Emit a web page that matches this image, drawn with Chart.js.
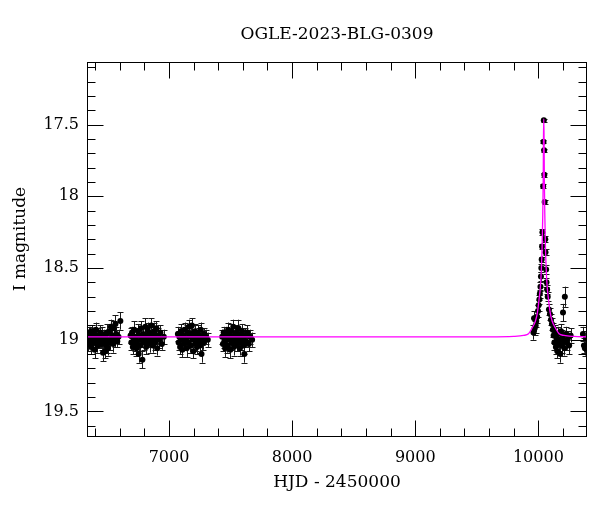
<!DOCTYPE html>
<html><head><meta charset="utf-8">
<script src="https://cdn.jsdelivr.net/npm/chart.js@4/dist/chart.umd.min.js"></script>
<style>html,body{margin:0;padding:0;background:#fff}#wrap{width:600px;height:512px}</style>
</head><body><div id="wrap"><canvas id="c" width="600" height="512"></canvas></div>
<script>
// ---- text ----
const chartTitle = 'OGLE-2023-BLG-0309';
const xTitle = 'HJD - 2450000';
const yTitle = 'I magnitude';

// ---- axes ----
const xRange = [6334, 10395];
const yRange = [17.064, 19.678];
const xMajorTicks = [7000, 8000, 9000, 10000];
const xMinorTicks = [6400, 6600, 6800, 7200, 7400, 7600, 7800, 8200, 8400, 8600, 8800, 9200, 9400, 9600, 9800, 10200];
const yMajorTicks = [17.5, 18, 18.5, 19, 19.5];
const yMinorTicks = [17.1, 17.2, 17.3, 17.4, 17.6, 17.7, 17.8, 17.9, 18.1, 18.2, 18.3, 18.4, 18.6, 18.7, 18.8, 18.9, 19.1, 19.2, 19.3, 19.4, 19.6];

// ---- observations [HJD-2450000, I mag, error] ----
const season1 = [[6340,18.98,.05],[6346,19.03,.05],[6351,18.95,.04],[6357,19.01,.05],[6362,18.97,.06],[6368,19.05,.05],[6373,18.94,.04],[6379,19.00,.05],[6385,19.02,.05],[6390,18.96,.04],[6396,19.07,.06],[6402,18.99,.05],[6407,18.93,.05],[6413,19.01,.04],[6419,19.04,.05],[6424,18.97,.05],[6430,18.99,.06],[6436,19.02,.04],[6441,18.95,.05],[6447,19.00,.05],[6453,19.03,.04],[6458,18.96,.05],[6464,19.09,.06],[6470,18.98,.05],[6476,19.01,.05],[6481,19.08,.05],[6487,18.97,.04],[6493,19.04,.05],[6498,18.95,.06],[6504,19.06,.05],[6510,19.00,.04],[6516,18.94,.05],[6522,19.02,.05],[6528,18.91,.05],[6534,18.99,.04],[6540,18.97,.05],[6546,19.03,.06],[6552,18.92,.05],[6558,19.00,.05],[6565,18.89,.06],[6572,18.96,.05],[6580,19.01,.04],[6590,18.98,.05],[6605,18.87,.06]];
const season2 = [[6688,18.97,.05],[6694,19.02,.05],[6700,18.95,.04],[6706,19.05,.05],[6712,18.99,.05],[6718,18.93,.06],[6724,19.03,.05],[6730,18.98,.04],[6736,19.06,.05],[6742,19.01,.05],[6748,18.94,.05],[6754,19.10,.06],[6760,18.97,.05],[6766,19.04,.04],[6772,18.92,.05],[6778,19.00,.05],[6784,19.14,.06],[6790,18.96,.05],[6796,19.02,.05],[6802,18.99,.04],[6808,18.91,.06],[6814,19.05,.05],[6820,18.97,.05],[6826,18.93,.05],[6832,19.01,.04],[6838,18.95,.05],[6844,19.03,.06],[6850,18.98,.05],[6856,18.90,.05],[6862,19.00,.04],[6868,19.04,.05],[6874,18.96,.05],[6880,18.94,.06],[6886,19.02,.05],[6892,18.99,.04],[6898,18.92,.05],[6904,19.06,.05],[6912,18.97,.05],[6920,19.00,.06],[6930,18.95,.05],[6942,19.03,.04],[6958,18.98,.05]];
const season3 = [[7072,18.96,.05],[7078,19.02,.05],[7084,18.98,.04],[7090,19.05,.05],[7096,18.94,.05],[7102,19.00,.06],[7108,19.07,.05],[7114,18.97,.05],[7120,19.03,.04],[7126,18.93,.05],[7132,19.01,.05],[7138,18.99,.05],[7144,19.06,.06],[7150,18.95,.05],[7156,19.02,.04],[7162,18.91,.05],[7168,18.98,.05],[7174,19.04,.05],[7180,18.96,.06],[7186,18.90,.05],[7192,19.00,.05],[7198,19.08,.05],[7204,18.97,.04],[7210,18.94,.05],[7216,19.03,.05],[7222,18.99,.06],[7228,19.05,.05],[7234,18.95,.05],[7240,19.01,.04],[7246,18.97,.05],[7252,19.04,.05],[7258,18.93,.05],[7264,19.10,.06],[7270,18.99,.05],[7278,19.02,.05],[7288,18.96,.04],[7300,18.98,.05],[7315,19.00,.05]];
const season4 = [[7432,18.98,.05],[7438,19.03,.05],[7444,18.95,.04],[7450,19.01,.05],[7456,19.06,.06],[7462,18.96,.05],[7468,18.99,.04],[7474,19.04,.05],[7480,18.93,.05],[7486,19.00,.05],[7492,18.97,.04],[7498,19.07,.06],[7504,18.94,.05],[7510,19.02,.05],[7516,18.99,.05],[7522,18.91,.05],[7528,19.05,.06],[7534,18.97,.05],[7540,19.01,.04],[7546,18.95,.05],[7552,19.03,.05],[7558,18.98,.05],[7564,18.92,.06],[7570,19.00,.05],[7576,19.06,.05],[7582,18.96,.04],[7588,19.02,.05],[7594,18.94,.05],[7600,18.99,.05],[7606,19.04,.06],[7612,19.10,.06],[7618,18.97,.05],[7626,19.01,.04],[7636,18.95,.05],[7648,19.03,.05],[7660,18.98,.05],[7675,19.00,.05]];
const eventSeason = [[9960,18.95,.05],[9965,18.85,.05],[9970,18.92,.05],[9978,18.90,.05],[9983,18.87,.04],[9990,18.84,.04],[9997,18.80,.04],[10002,18.76,.04],[10008,18.72,.03],[10012,18.68,.03],[10017,18.63,.03],[10021,18.56,.03],[10024,18.50,.03],[10027,18.44,.02],[10030,18.35,.02],[10033,18.25,.02],[10039,17.93,.015],[10041.5,17.62,.012],[10044,17.47,.012],[10047,17.68,.012],[10048.5,17.85,.015],[10051,18.04,.015],[10056,18.30,.02],[10058,18.39,.02],[10063,18.51,.03],[10066,18.60,.03],[10071,18.65,.03],[10076,18.70,.03],[10086,18.79,.04],[10094,18.82,.04],[10102,18.86,.04],[10110,18.89,.04],[10118,18.93,.05],[10124,18.97,.05],[10130,19.02,.05],[10136,18.95,.05],[10142,19.05,.05],[10148,18.99,.05],[10154,19.08,.05],[10160,18.96,.05],[10166,19.03,.05],[10172,19.00,.05],[10178,19.10,.06],[10184,18.94,.05],[10190,19.04,.05],[10196,18.98,.05],[10200,18.81,.06],[10206,19.01,.05],[10212,19.06,.05],[10215,18.70,.07],[10222,18.96,.05],[10230,19.02,.05],[10240,18.99,.05],[10250,19.04,.06],[10262,18.97,.05],[10362,18.96,.05],[10370,19.04,.05],[10378,19.06,.05],[10390,18.99,.05]];

// ---- model curve ----
const modelT = [6334, 9600, 9800, 9880, 9920, 9951, 9975, 9991, 10005, 10020, 10030.5, 10035, 10039.5, 10041.75, 10044, 10046.25, 10048.5, 10053, 10057.5, 10068, 10083, 10097, 10113, 10137, 10168, 10208, 10288, 10395];
const modelM = [18.98, 18.98, 18.977, 18.97, 18.958, 18.915, 18.873, 18.817, 18.725, 18.585, 18.352, 18.16, 17.88, 17.58, 17.46, 17.58, 17.88, 18.16, 18.352, 18.585, 18.725, 18.817, 18.873, 18.915, 18.958, 18.97, 18.977, 18.98];

const FONT = "'DejaVu Serif', 'Liberation Serif', serif";
const observations = [].concat(season1, season2, season3, season4, eventSeason);
const obsPoints = observations.map(r => ({x: r[0], y: r[1], e: r[2]}));
const modelPoints = modelT.map((t, i) => ({x: t, y: modelM[i]}));

const errorBars = {
  id: 'errorBars',
  beforeDatasetsDraw(chart) {
    const {ctx, chartArea: a, scales: {x, y}} = chart;
    ctx.save();
    ctx.beginPath(); ctx.rect(a.left, a.top, a.right - a.left, a.bottom - a.top); ctx.clip();
    ctx.strokeStyle = '#1a1a1a'; ctx.lineWidth = 1;
    ctx.beginPath();
    for (const p of obsPoints) {
      const px = Math.round(x.getPixelForValue(p.x)) + 0.5;
      const y1 = y.getPixelForValue(p.y - p.e), y2 = y.getPixelForValue(p.y + p.e);
      ctx.moveTo(px, y1); ctx.lineTo(px, y2);
      ctx.moveTo(px - 3, Math.round(y1) + 0.5); ctx.lineTo(px + 3, Math.round(y1) + 0.5);
      ctx.moveTo(px - 3, Math.round(y2) + 0.5); ctx.lineTo(px + 3, Math.round(y2) + 0.5);
    }
    ctx.stroke();
    ctx.restore();
  }
};

const frameTicks = {
  id: 'frameTicks',
  afterDraw(chart) {
    const {ctx, chartArea: a, scales: {x, y}} = chart;
    ctx.save();
    ctx.strokeStyle = '#000'; ctx.lineWidth = 1;
    const L = a.left + 0.5, R = a.right - 0.5, T = a.top + 0.5, B = a.bottom - 0.5;
    ctx.strokeRect(L, T, R - L, B - T);
    ctx.beginPath();
    const xt = (v, len) => { const p = Math.round(x.getPixelForValue(v)) + 0.5; ctx.moveTo(p, B); ctx.lineTo(p, B - len); ctx.moveTo(p, T); ctx.lineTo(p, T + len); };
    const yt = (v, len) => { const p = Math.round(y.getPixelForValue(v)) + 0.5; ctx.moveTo(L, p); ctx.lineTo(L + len, p); ctx.moveTo(R, p); ctx.lineTo(R - len, p); };
    xMajorTicks.forEach(v => xt(v, 16)); xMinorTicks.forEach(v => xt(v, 8));
    yMajorTicks.forEach(v => yt(v, 16)); yMinorTicks.forEach(v => yt(v, 8));
    ctx.stroke();
    ctx.fillStyle = '#000';
    ctx.textAlign = 'center'; ctx.textBaseline = 'middle';
    ctx.font = "17px " + FONT;
    ctx.fillText(chartTitle, (a.left + a.right) / 2, 35);
    ctx.translate(21, 239); ctx.rotate(-Math.PI / 2);
    ctx.fillText(yTitle, 0, 0);
    ctx.restore();
  }
};

new Chart(document.getElementById('c'), {
  type: 'scatter',
  data: {
    datasets: [
      { type: 'line', data: modelPoints, borderColor: '#ff00ff', borderWidth: 1.3, pointRadius: 0, fill: false, cubicInterpolationMode: 'monotone', order: 0 },
      { data: obsPoints, pointRadius: 3, pointStyle: 'circle', backgroundColor: '#000', borderColor: '#000', borderWidth: 0, order: 1 }
    ]
  },
  options: {
    responsive: false, animation: false, devicePixelRatio: 1,
    layout: { padding: { left: 0, right: 13, top: 62, bottom: 0 } },
    plugins: { legend: { display: false }, tooltip: { enabled: false }, title: { display: false } },
    scales: {
      x: {
        type: 'linear', min: xRange[0], max: xRange[1],
        grid: { display: false, drawTicks: false }, border: { display: false },
        afterBuildTicks: s => { s.ticks = xMajorTicks.map(v => ({ value: v })); },
        afterFit: s => { s.height = 75; },
        ticks: { color: '#000', font: { family: FONT, size: 16 }, padding: 11, maxRotation: 0, autoSkip: false, callback: v => String(v) },
        title: { display: true, text: xTitle, color: '#000', font: { family: FONT, size: 17 }, padding: { top: 0, bottom: 19 } }
      },
      y: {
        type: 'linear', min: yRange[0], max: yRange[1], reverse: true,
        grid: { display: false, drawTicks: false }, border: { display: false },
        afterBuildTicks: s => { s.ticks = yMajorTicks.map(v => ({ value: v })); },
        afterFit: s => { s.width = 87; },
        ticks: { color: '#000', font: { family: FONT, size: 16 }, padding: 8, autoSkip: false, callback: v => String(v) }
      }
    }
  },
  plugins: [errorBars, frameTicks]
});
</script></body></html>
